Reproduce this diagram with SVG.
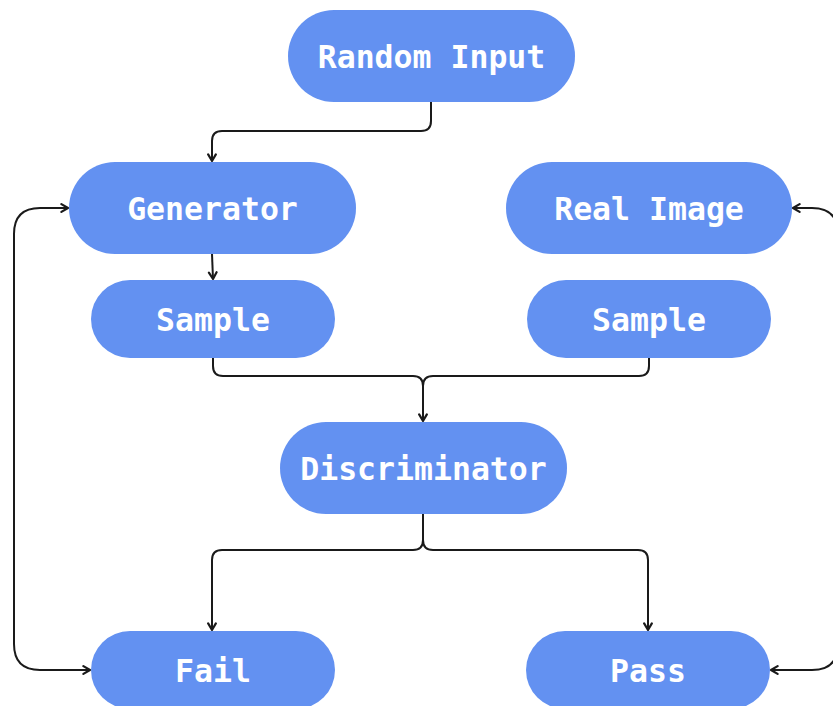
<svg xmlns="http://www.w3.org/2000/svg" width="833" height="706" viewBox="0 0 833 706">
  <defs>
    <style>
      .node rect { fill: #6391F1; }
      .node text { fill: #ffffff; font-family: "DejaVu Sans Mono", "Liberation Mono", monospace; font-weight: bold; font-size: 31.5px; text-anchor: middle; }
      .edge { fill: none; stroke: #1a1a1a; stroke-width: 2; }
    </style>
    <marker id="arrow" viewBox="0 0 10 10" refX="9" refY="5" markerWidth="11" markerHeight="11" markerUnits="userSpaceOnUse" orient="auto-start-reverse">
      <path d="M 3 1.5 L 9 5 L 3 8.5" fill="none" stroke="#1a1a1a" stroke-width="2" stroke-linecap="round" stroke-linejoin="round"/>
    </marker>
  </defs>

  <rect width="833" height="706" fill="#ffffff"/>

  <g id="connectors">
    <!-- Random Input to Generator -->
    <path class="edge" d="M 431 102 V 121 Q 431 131 421 131 H 222 Q 212 131 212 141 V 161" marker-end="url(#arrow)"/>
    <!-- Generator to Sample -->
    <path class="edge" d="M 212 254 L 213 279" marker-end="url(#arrow)"/>
    <!-- Samples merge into Discriminator -->
    <path class="edge" d="M 213 358 V 366 Q 213 376 223 376 H 413 Q 423 376 423 386 V 421" marker-end="url(#arrow)"/>
    <path class="edge" d="M 649 358 V 366 Q 649 376 639 376 H 433 Q 423 376 423 386"/>
    <!-- Discriminator to Fail / Pass -->
    <path class="edge" d="M 423 514 V 540 Q 423 550 413 550 H 222 Q 212 550 212 560 V 630" marker-end="url(#arrow)"/>
    <path class="edge" d="M 423 540 Q 423 550 433 550 H 638 Q 648 550 648 560 V 630" marker-end="url(#arrow)"/>
    <!-- Fail back to Generator -->
    <path class="edge" d="M 68 208 H 40 Q 14 208 14 234 V 644 Q 14 670 40 670 H 90" marker-start="url(#arrow)" marker-end="url(#arrow)"/>
    <!-- Pass back to Real Image -->
    <path class="edge" d="M 793 208 H 812 Q 838 208 838 234 V 644 Q 838 670 812 670 H 771" marker-start="url(#arrow)" marker-end="url(#arrow)"/>
  </g>

  <g id="random-input" class="node">
    <rect x="288" y="10" width="287" height="92" rx="46"/>
    <text x="431.5" y="67.5">Random Input</text>
  </g>
  <g id="generator" class="node">
    <rect x="69" y="162" width="287" height="92" rx="46"/>
    <text x="212.5" y="219.5">Generator</text>
  </g>
  <g id="real-image" class="node">
    <rect x="506" y="162" width="286" height="92" rx="46"/>
    <text x="649" y="219.5">Real Image</text>
  </g>
  <g id="sample-generated" class="node">
    <rect x="91" y="280" width="244" height="78" rx="39"/>
    <text x="213" y="330.5">Sample</text>
  </g>
  <g id="sample-real" class="node">
    <rect x="527" y="280" width="244" height="78" rx="39"/>
    <text x="649" y="330.5">Sample</text>
  </g>
  <g id="discriminator" class="node">
    <rect x="280" y="422" width="287" height="92" rx="46"/>
    <text x="423.5" y="479.5">Discriminator</text>
  </g>
  <g id="fail" class="node">
    <rect x="91" y="631" width="244" height="78" rx="39"/>
    <text x="213" y="681.5">Fail</text>
  </g>
  <g id="pass" class="node">
    <rect x="526" y="631" width="244" height="78" rx="39"/>
    <text x="648" y="681.5">Pass</text>
  </g>
</svg>
